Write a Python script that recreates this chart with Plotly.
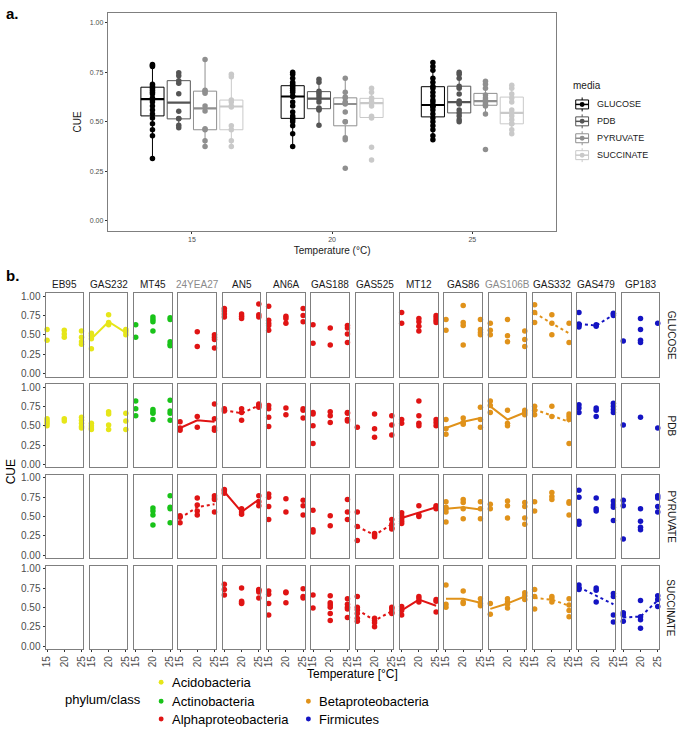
import numpy as np
import plotly.graph_objects as go

# ---------------- Panel a data ----------------
temps_a = ["15", "20", "25"]
media = ["GLUCOSE", "PDB", "PYRUVATE", "SUCCINATE"]
media_colors = ["#000000", "#555555", "#8f8f8f", "#c9c9c9"]

glucose_a = {
    "15": [0.79, 0.785, 0.78, 0.69, 0.68, 0.67, 0.66, 0.65, 0.64, 0.62, 0.61, 0.60, 0.58, 0.56, 0.54, 0.52, 0.49, 0.46, 0.43, 0.315],
    "20": [0.75, 0.74, 0.72, 0.70, 0.69, 0.68, 0.67, 0.66, 0.65, 0.63, 0.628, 0.60, 0.58, 0.55, 0.53, 0.52, 0.51, 0.50, 0.48, 0.44, 0.375],
    "25": [0.80, 0.78, 0.76, 0.72, 0.70, 0.68, 0.67, 0.65, 0.63, 0.61, 0.60, 0.582, 0.585, 0.58, 0.575, 0.56, 0.54, 0.52, 0.50, 0.48, 0.46, 0.43, 0.41],
}
pdb_a = {
    "15": [0.748, 0.733, 0.708, 0.695, 0.642, 0.553, 0.517, 0.515, 0.483, 0.47],
    "20": [0.715, 0.70, 0.655, 0.645, 0.63, 0.617, 0.60, 0.57, 0.565, 0.56, 0.483],
    "25": [0.75, 0.74, 0.72, 0.68, 0.67, 0.64, 0.605, 0.595, 0.59, 0.56, 0.545, 0.53, 0.51, 0.50],
}
pyruvate_a = {
    "15": [0.815, 0.66, 0.655, 0.645, 0.58, 0.555, 0.465, 0.46, 0.405, 0.375],
    "20": [0.72, 0.65, 0.625, 0.62, 0.60, 0.595, 0.59, 0.55, 0.50, 0.50, 0.42, 0.41, 0.265],
    "25": [0.705, 0.69, 0.67, 0.635, 0.62, 0.61, 0.605, 0.60, 0.59, 0.585, 0.58, 0.54, 0.36],
}
succinate_a = {
    "15": [0.74, 0.728, 0.61, 0.60, 0.58, 0.575, 0.48, 0.46, 0.405, 0.375],
    "20": [0.67, 0.65, 0.62, 0.615, 0.60, 0.595, 0.58, 0.528, 0.52, 0.372, 0.307],
    "25": [0.685, 0.67, 0.64, 0.62, 0.60, 0.56, 0.545, 0.53, 0.51, 0.49, 0.49, 0.46, 0.44],
}
panel_a = [glucose_a, pdb_a, pyruvate_a, succinate_a]

# ---------------- Panel b data ----------------
strains = ["EB95", "GAS232", "MT45", "24YEA27", "AN5", "AN6A", "GAS188", "GAS525",
           "MT12", "GAS86", "GAS106B", "GAS332", "GAS479", "GP183"]
strain_phylum = ["Acidobacteria", "Acidobacteria", "Actinobacteria", "Alphaproteobacteria",
                 "Alphaproteobacteria", "Alphaproteobacteria", "Alphaproteobacteria",
                 "Alphaproteobacteria", "Alphaproteobacteria", "Betaproteobacteria",
                 "Betaproteobacteria", "Betaproteobacteria", "Firmicutes", "Firmicutes"]
phyla = ["Acidobacteria", "Actinobacteria", "Alphaproteobacteria", "Betaproteobacteria", "Firmicutes"]
phylum_colors = {
    "Acidobacteria": "#E6E619",
    "Actinobacteria": "#19C319",
    "Alphaproteobacteria": "#E01414",
    "Betaproteobacteria": "#E0921A",
    "Firmicutes": "#1414C3",
}
temps_b = [15, 20, 25]

glucose_b = {
    "EB95": [[0.57, 0.43], [0.56, 0.51, 0.47], [0.55, 0.47, 0.41, 0.38]],
    "GAS232": [[0.52, 0.49, 0.45, 0.32], [0.76, 0.66, 0.63], [0.57, 0.54, 0.50]],
    "MT45": [[0.63, 0.47], [0.73, 0.70, 0.67, 0.55], [0.72, 0.70, 0.41, 0.38, 0.36]],
    "24YEA27": [[], [0.54, 0.35], [0.50, 0.47, 0.44, 0.33]],
    "AN5": [[0.84, 0.81, 0.77, 0.73], [0.77, 0.74, 0.71], [0.90, 0.76, 0.73]],
    "AN6A": [[0.87, 0.69, 0.65, 0.62, 0.56], [0.74, 0.71, 0.65], [0.84, 0.75, 0.67]],
    "GAS188": [[0.63, 0.39], [0.59, 0.37], [0.62, 0.59, 0.51, 0.40]],
    "GAS525": [[], [], []],
    "MT12": [[0.79, 0.65], [0.71, 0.67, 0.61, 0.55], [0.75, 0.72, 0.69, 0.66]],
    "GAS86": [[0.70, 0.56], [0.88, 0.66, 0.62, 0.37], [0.70, 0.57, 0.53, 0.50]],
    "GAS106B": [[0.65, 0.56, 0.50], [0.70, 0.49, 0.41], [0.55, 0.44, 0.35]],
    "GAS332": [[0.89, 0.79, 0.66], [0.76, 0.65, 0.50], [0.65, 0.40]],
    "GAS479": [[0.79, 0.64, 0.62, 0.60], [0.63, 0.61], [0.78, 0.77, 0.75]],
    "GP183": [[0.42], [0.71, 0.57, 0.43, 0.40], [0.65]],
}
pdb_b = {
    "EB95": [[0.59, 0.56, 0.53, 0.50], [0.59, 0.56], [0.61, 0.57, 0.53, 0.49, 0.47]],
    "GAS232": [[0.53, 0.50, 0.47, 0.45], [0.68, 0.65, 0.51, 0.45], [0.66, 0.56, 0.45]],
    "MT45": [[0.82, 0.72, 0.63], [0.71, 0.68, 0.66, 0.58], [0.83, 0.69, 0.66, 0.57]],
    "24YEA27": [[0.55, 0.47, 0.44], [0.62, 0.48], [0.78, 0.59, 0.47, 0.44]],
    "AN5": [[0.72, 0.69], [0.72, 0.67, 0.57], [0.78, 0.76, 0.74]],
    "AN6A": [[0.76, 0.72, 0.61, 0.49], [0.73, 0.64], [0.72, 0.70, 0.60]],
    "GAS188": [[0.67, 0.65, 0.50, 0.27], [0.68, 0.63, 0.54], [0.67, 0.66, 0.58, 0.56]],
    "GAS525": [[0.48], [0.65, 0.46, 0.35], [0.63, 0.51, 0.38]],
    "MT12": [[0.58, 0.53], [0.82, 0.63, 0.53, 0.50], [0.58, 0.54, 0.50]],
    "GAS86": [[0.58, 0.46, 0.39], [0.60, 0.54, 0.52], [0.74, 0.58, 0.48]],
    "GAS106B": [[0.82, 0.76, 0.67], [0.70, 0.53, 0.50], [0.70, 0.67, 0.64]],
    "GAS332": [[0.75, 0.70, 0.64], [0.75, 0.62], [0.65, 0.62, 0.58, 0.27]],
    "GAS479": [[0.77, 0.73, 0.67], [0.73, 0.70, 0.62], [0.79, 0.75, 0.71, 0.67]],
    "GP183": [[0.51], [0.61], [0.47]],
}
pyruvate_b = {
    "EB95": [[], [], []],
    "GAS232": [[], [], []],
    "MT45": [[], [0.61, 0.57, 0.52, 0.39], [0.77, 0.62, 0.60, 0.42]],
    "24YEA27": [[0.51, 0.49, 0.42], [0.74, 0.65, 0.57, 0.52], [0.77, 0.74, 0.72, 0.56]],
    "AN5": [[0.85, 0.83, 0.80], [0.60, 0.56, 0.53], [0.77, 0.69, 0.64]],
    "AN6A": [[0.79, 0.75, 0.63, 0.46], [0.73, 0.56], [0.71, 0.64, 0.52]],
    "GAS188": [[0.58, 0.33, 0.30], [0.51, 0.38], [0.72, 0.56, 0.46]],
    "GAS525": [[0.56, 0.37, 0.19], [0.28, 0.26, 0.24], [0.46, 0.40, 0.35, 0.34]],
    "MT12": [[0.55, 0.51, 0.47, 0.44, 0.41], [0.64, 0.52, 0.50], [0.64, 0.62, 0.60]],
    "GAS86": [[0.69, 0.62, 0.60, 0.56, 0.43], [0.72, 0.68, 0.60, 0.47], [0.69, 0.60, 0.47]],
    "GAS106B": [[0.66, 0.60], [0.70, 0.64, 0.48], [0.68, 0.63, 0.48, 0.40]],
    "GAS332": [[0.69, 0.57], [0.81, 0.76, 0.72], [0.69, 0.67, 0.52]],
    "GAS479": [[0.84, 0.75, 0.44, 0.40], [0.74, 0.60, 0.57], [0.70, 0.65, 0.62, 0.45]],
    "GP183": [[0.71, 0.64, 0.21], [0.60, 0.44, 0.36, 0.33], [0.77, 0.74, 0.63, 0.56]],
}
succinate_b = {
    "EB95": [[], [], []],
    "GAS232": [[], [], []],
    "MT45": [[], [], []],
    "24YEA27": [[], [], []],
    "AN5": [[0.80, 0.73, 0.66], [0.75, 0.58, 0.56, 0.55], [0.73, 0.72, 0.70, 0.62]],
    "AN6A": [[0.71, 0.67, 0.55, 0.40], [0.70, 0.69, 0.56], [0.74, 0.64, 0.62]],
    "GAS188": [[0.66, 0.49], [0.65, 0.56, 0.53, 0.50, 0.42, 0.33], [0.61, 0.54, 0.50, 0.48, 0.37]],
    "GAS525": [[0.64, 0.50, 0.47, 0.42, 0.36, 0.32], [0.36, 0.33, 0.30, 0.25], [0.50, 0.48, 0.44, 0.42]],
    "MT12": [[0.51, 0.46, 0.40], [0.64, 0.61, 0.57], [0.60, 0.58, 0.44]],
    "GAS86": [[0.79, 0.54, 0.50], [0.71, 0.57, 0.55], [0.61, 0.55, 0.52]],
    "GAS106B": [[0.55, 0.41], [0.61, 0.57, 0.54, 0.49], [0.69, 0.65, 0.60]],
    "GAS332": [[0.73, 0.64, 0.48], [0.64, 0.61, 0.57], [0.61, 0.53, 0.46, 0.38]],
    "GAS479": [[0.79, 0.75, 0.73], [0.75, 0.72, 0.57], [0.68, 0.64, 0.40, 0.31]],
    "GP183": [[0.43, 0.40, 0.32], [0.59, 0.38, 0.34, 0.23], [0.65, 0.60, 0.51]],
}
panel_b = [glucose_b, pdb_b, pyruvate_b, succinate_b]

# trend lines: (line style, CUE at 15, 20, 25 degC)
trend_glucose = {"GAS232": ("solid", [0.45, 0.67, 0.53]),
                 "GAS332": ("dot", [0.78, 0.65, 0.52]),
                 "GAS479": ("dot", [0.64, 0.62, 0.76])}
trend_pdb = {"24YEA27": ("solid", [0.47, 0.57, 0.55]),
             "AN5": ("dot", [0.70, 0.66, 0.76]),
             "GAS86": ("solid", [0.47, 0.55, 0.60]),
             "GAS106B": ("solid", [0.75, 0.58, 0.67]),
             "GAS332": ("dot", [0.71, 0.63, 0.55])}
trend_pyruvate = {"24YEA27": ("dot", [0.48, 0.62, 0.66]),
                  "AN5": ("solid", [0.82, 0.56, 0.72]),
                  "GAS525": ("dot", [0.37, 0.26, 0.40]),
                  "MT12": ("solid", [0.48, 0.55, 0.62]),
                  "GAS86": ("solid", [0.60, 0.62, 0.59])}
trend_succinate = {"GAS525": ("dot", [0.47, 0.33, 0.45]),
                   "MT12": ("solid", [0.46, 0.60, 0.52]),
                   "GAS86": ("solid", [0.61, 0.61, 0.56]),
                   "GAS106B": ("solid", [0.48, 0.55, 0.64]),
                   "GAS332": ("dot", [0.62, 0.60, 0.52]),
                   "GAS479": ("dot", [0.76, 0.65, 0.54]),
                   "GP183": ("dot", [0.37, 0.38, 0.59])}
trends = [trend_glucose, trend_pdb, trend_pyruvate, trend_succinate]

y_ticks = [0, 0.25, 0.5, 0.75, 1.0]
y_ticktext = ["0.00", "0.25", "0.50", "0.75", "1.00"]

# ---------------- Figure ----------------
W, H = 683, 729
FONT = "Liberation Sans, Arial, sans-serif"
BORDER = "#7f7f7f"
BOXGAP, BOXGROUPGAP = 0.25, 0.12
fig = go.Figure()

# Panel a boxes
for m, col, d in zip(media, media_colors, panel_a):
    xs, ys = [], []
    for t in temps_a:
        xs += [t] * len(d[t])
        ys += d[t]
    fig.add_trace(go.Box(
        x=xs, y=ys, name=m, xaxis="x", yaxis="y",
        line=dict(color=col, width=1), fillcolor="white",
        marker=dict(color=col, size=5.5),
        boxpoints="all", jitter=0, pointpos=0, whiskerwidth=0,
        showlegend=False,
    ))

# thicker median bars (ggplot style), computed from the same data on a numeric overlay axis
slot = (1 - BOXGAP) / len(media)
half = slot * (1 - BOXGROUPGAP) / 2
for j, (m, col, d) in enumerate(zip(media, media_colors, panel_a)):
    mx, my = [], []
    for i, t in enumerate(temps_a):
        cx = i - (1 - BOXGAP) / 2 + slot * (j + 0.5)
        med = float(np.median(d[t]))
        mx += [cx - half, cx + half, None]
        my += [med, med, None]
    fig.add_trace(go.Scatter(x=mx, y=my, mode="lines", xaxis="x99", yaxis="y",
                             line=dict(color=col, width=2.2), showlegend=False, hoverinfo="skip"))


def px2x(p):
    return p / W


def px2y(p):
    return 1 - p / H


layout = dict(
    width=W, height=H, margin=dict(l=0, r=0, t=0, b=0),
    paper_bgcolor="white", plot_bgcolor="white",
    font=dict(family=FONT, color="#1a1a1a"),
    boxmode="group", boxgap=BOXGAP, boxgroupgap=BOXGROUPGAP,
    showlegend=False,
    xaxis=dict(domain=[px2x(105), px2x(559)], anchor="y", type="category",
               categoryorder="array", categoryarray=temps_a, range=[-0.6, 2.6],
               showline=True, mirror=True, linecolor=BORDER, linewidth=1,
               showgrid=False, zeroline=False, ticks="outside", ticklen=2,
               tickcolor="#333333", tickfont=dict(size=7, color="#4d4d4d"),
               title=dict(text="Temperature (°C)", font=dict(size=10), standoff=4)),
    xaxis99=dict(overlaying="x", anchor="y", range=[-0.6, 2.6], visible=False,
                 domain=[px2x(105), px2x(559)]),
    yaxis=dict(domain=[px2y(230), px2y(11)], anchor="x", range=[-0.05, 1.05],
               tickvals=y_ticks, ticktext=y_ticktext,
               showline=True, mirror=True, linecolor=BORDER, linewidth=1,
               showgrid=False, zeroline=False, ticks="outside", ticklen=2,
               tickcolor="#333333", tickfont=dict(size=7, color="#4d4d4d"),
               title=dict(text="CUE", font=dict(size=10), standoff=6)),
)

annotations = []
shapes = []

# panel a legend (media), drawn as boxplot keys
annotations.append(dict(x=px2x(574), y=px2y(84), xref="paper", yref="paper", text="media",
                        showarrow=False, xanchor="left", yanchor="middle",
                        font=dict(size=10, color="#1a1a1a")))
for i, (m, col) in enumerate(zip(media, media_colors)):
    ly = 103 + 17 * i
    kx = 585
    shapes.append(dict(type="line", xref="paper", yref="paper",
                       x0=px2x(kx), x1=px2x(kx), y0=px2y(ly - 7), y1=px2y(ly + 7),
                       line=dict(color=col, width=1)))
    shapes.append(dict(type="rect", xref="paper", yref="paper",
                       x0=px2x(kx - 6.5), x1=px2x(kx + 6.5), y0=px2y(ly + 4.5), y1=px2y(ly - 4.5),
                       fillcolor="white", line=dict(color=col, width=1)))
    shapes.append(dict(type="line", xref="paper", yref="paper",
                       x0=px2x(kx - 6.5), x1=px2x(kx + 6.5), y0=px2y(ly), y1=px2y(ly),
                       line=dict(color=col, width=1.5)))
    shapes.append(dict(type="circle", xref="paper", yref="paper",
                       x0=px2x(kx - 2.5), x1=px2x(kx + 2.5), y0=px2y(ly + 2.5), y1=px2y(ly - 2.5),
                       fillcolor=col, line=dict(width=0)))
    annotations.append(dict(x=px2x(598), y=px2y(ly), xref="paper", yref="paper", text=m,
                            showarrow=False, xanchor="left", yanchor="middle",
                            font=dict(size=9, color="#1a1a1a")))

# Panel b facet grid
col_left0, col_pitch, col_w = 42.0, 44.85, 38.0
row_top0, row_pitch, row_h = 292.7, 91.33, 84.0
for r, (m, d, tr) in enumerate(zip(media, panel_b, trends)):
    for c, s in enumerate(strains):
        n = r * len(strains) + c + 2
        xa, ya = f"x{n}", f"y{n}"
        color = phylum_colors[strain_phylum[c]]
        xs, ys = [], []
        for t, vals in zip(temps_b, d[s]):
            xs += [t] * len(vals)
            ys += vals
        if s in tr:
            style, yl = tr[s]
            fig.add_trace(go.Scatter(x=temps_b, y=yl, mode="lines", xaxis=xa, yaxis=ya,
                                     line=dict(color=color, width=2, dash=style),
                                     showlegend=False, hoverinfo="skip", cliponaxis=False))
        if xs:
            fig.add_trace(go.Scatter(x=xs, y=ys, mode="markers", xaxis=xa, yaxis=ya,
                                     marker=dict(color=color, size=5.5),
                                     showlegend=False, cliponaxis=False))
        else:
            fig.add_trace(go.Scatter(x=[None], y=[None], mode="markers", xaxis=xa, yaxis=ya,
                                     showlegend=False))
        x0 = col_left0 + c * col_pitch
        top = row_top0 + r * row_pitch
        layout[f"xaxis{n}"] = dict(
            domain=[px2x(x0), px2x(x0 + col_w)], anchor=ya, range=[14.55, 25.45],
            tickvals=temps_b, ticktext=[str(t) for t in temps_b],
            showticklabels=(r == 3), ticks="outside" if r == 3 else "",
            ticklen=2, tickcolor="#333333", tickangle=-90,
            tickfont=dict(size=10, color="#4d4d4d"),
            showline=True, mirror=True, linecolor=BORDER, linewidth=1,
            showgrid=False, zeroline=False)
        layout[f"yaxis{n}"] = dict(
            domain=[px2y(top + row_h), px2y(top)], anchor=xa, range=[-0.04, 1.04],
            tickvals=y_ticks, ticktext=y_ticktext,
            showticklabels=(c == 0), ticks="outside" if c == 0 else "",
            ticklen=2, tickcolor="#333333",
            tickfont=dict(size=10, color="#4d4d4d"),
            showline=True, mirror=True, linecolor=BORDER, linewidth=1,
            showgrid=False, zeroline=False)

# strip labels
for c, s in enumerate(strains):
    x0 = col_left0 + c * col_pitch
    annotations.append(dict(x=px2x(x0 + col_w / 2), y=px2y(284), xref="paper", yref="paper",
                            text=s, showarrow=False, xanchor="center", yanchor="middle",
                            font=dict(size=10, color="#8a8a8a" if s in ("24YEA27", "GAS106B") else "#1a1a1a")))
for r, m in enumerate(media):
    top = row_top0 + r * row_pitch
    annotations.append(dict(x=px2x(675), y=px2y(top + row_h / 2), xref="paper", yref="paper",
                            text=m, showarrow=False, textangle=90, xanchor="center", yanchor="middle",
                            font=dict(size=10, color="#1a1a1a")))

# panel labels and panel-b axis titles
annotations.append(dict(x=0, y=px2y(12), xref="paper", yref="paper", text="<b>a.</b>",
                        showarrow=False, xanchor="left", yanchor="middle", font=dict(size=15, color="black")))
annotations.append(dict(x=0, y=px2y(275), xref="paper", yref="paper", text="<b>b.</b>",
                        showarrow=False, xanchor="left", yanchor="middle", font=dict(size=15, color="black")))
annotations.append(dict(x=px2x(8), y=px2y(472), xref="paper", yref="paper", text="CUE",
                        showarrow=False, textangle=-90, xanchor="center", yanchor="middle",
                        font=dict(size=12, color="black")))
annotations.append(dict(x=px2x(353), y=px2y(676), xref="paper", yref="paper", text="Temperature [°C]",
                        showarrow=False, xanchor="center", yanchor="middle",
                        font=dict(size=12, color="black")))

# panel b legend (phylum/class)
annotations.append(dict(x=px2x(60), y=px2y(701), xref="paper", yref="paper", text="phylum/class",
                        showarrow=False, xanchor="left", yanchor="middle",
                        font=dict(size=13, color="black")))
legend_pos = {"Acidobacteria": (159, 684), "Actinobacteria": (159, 703),
              "Alphaproteobacteria": (159, 721), "Betaproteobacteria": (308, 703),
              "Firmicutes": (308, 721)}
for p in phyla:
    lx, ly = legend_pos[p]
    shapes.append(dict(type="circle", xref="paper", yref="paper",
                       x0=px2x(lx - 2.5), x1=px2x(lx + 2.5), y0=px2y(ly + 2.5), y1=px2y(ly - 2.5),
                       fillcolor=phylum_colors[p], line=dict(width=0)))
    annotations.append(dict(x=px2x(lx + 9), y=px2y(ly), xref="paper", yref="paper", text=p,
                            showarrow=False, xanchor="left", yanchor="middle",
                            font=dict(size=13, color="black")))

layout["annotations"] = annotations
layout["shapes"] = shapes
fig.update_layout(**layout)
fig.write_html("out.html", config={"displayModeBar": False},
               post_script="document.body.style.margin='0';document.body.style.overflow='hidden';")
